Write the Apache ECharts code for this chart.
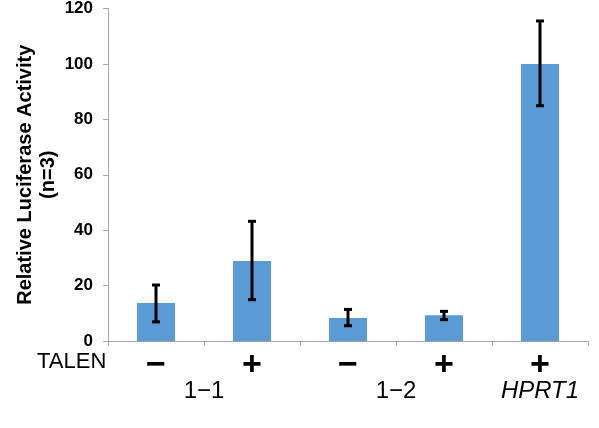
<!DOCTYPE html>
<html>
<head>
<meta charset="utf-8">
<script src="https://cdn.jsdelivr.net/npm/echarts@6/dist/echarts.min.js"></script>
<style>
html,body{margin:0;padding:0;background:#fff;}
#main{width:599px;height:428px;}
</style>
</head>
<body>
<div id="main"></div>
<script>
var categories = ['\u2212', '+', '\u2212', '+', '+'];
var values = [13.7, 28.9, 8.3, 9.3, 100];
var errLow = [6.9, 14.9, 5.5, 7.7, 84.9];
var errHigh = [20.2, 43.2, 11.4, 10.7, 115.5];
var groupLabels = ['1\u22121', '1\u22122', 'HPRT1'];
var groupCenters = [0.5, 2.5, 4];
var yTicks = [0, 20, 40, 60, 80, 100, 120];

var font = 'Liberation Sans, Arial, sans-serif';
var axisGray = '#a6a6a6';

var chart = echarts.init(document.getElementById('main'));

var errData = categories.map(function (c, i) {
	return [i, errLow[i], errHigh[i]];
});

var option = {
	backgroundColor: '#fff',
	animation: false,
	grid: {left: 108, right: 11, top: 5, bottom: 87},
	xAxis: {
		type: 'category',
		data: categories,
		axisLine: {lineStyle: {color: axisGray, width: 1}},
		axisTick: {show: true, length: 5, lineStyle: {color: axisGray}},
		axisLabel: {
			color: '#000',
			fontFamily: font,
			fontWeight: 'bold',
			fontSize: 34,
			margin: 8
		}
	},
	yAxis: {
		type: 'value',
		min: yTicks[0],
		max: yTicks[yTicks.length - 1],
		interval: 20,
		splitLine: {show: false},
		axisLine: {show: true, lineStyle: {color: axisGray, width: 1}},
		axisTick: {show: true, length: 5, lineStyle: {color: axisGray}},
		axisLabel: {
			color: '#000',
			fontFamily: font,
			fontWeight: 'bold',
			fontSize: 17,
			margin: 15
		},
		name: 'Relative Luciferase Activity\n(n=3)',
		nameLocation: 'middle',
		nameGap: 48,
		nameMoveOverlap: false,
		nameTextStyle: {
			color: '#000',
			fontFamily: font,
			fontWeight: 'bold',
			fontSize: 20,
			lineHeight: 23
		}
	},
	series: [
		{
			name: 'activity',
			type: 'bar',
			data: values,
			barWidth: 38,
			itemStyle: {color: '#5b9bd5'}
		},
		{
			name: 'error',
			type: 'custom',
			data: errData,
			z: 10,
			renderItem: function (params, api) {
				var lo = api.coord([api.value(0), api.value(1)]);
				var hi = api.coord([api.value(0), api.value(2)]);
				var x = lo[0];
				var cap = 4;
				var st = {stroke: '#000', lineWidth: 3};
				return {
					type: 'group',
					children: [
						{type: 'line', shape: {x1: x, y1: lo[1], x2: x, y2: hi[1]}, style: st},
						{type: 'line', shape: {x1: x - cap, y1: lo[1], x2: x + cap, y2: lo[1]}, style: st},
						{type: 'line', shape: {x1: x - cap, y1: hi[1], x2: x + cap, y2: hi[1]}, style: st}
					]
				};
			}
		}
	]
};

chart.setOption(option);

// text below the axis: TALEN row title and group names
function catX(pos) {
	var i = Math.floor(pos);
	var a = chart.convertToPixel({xAxisIndex: 0}, i);
	if (pos === i) return a;
	var b = chart.convertToPixel({xAxisIndex: 0}, i + 1);
	return a + (b - a) * (pos - i);
}

var graphics = [{
	type: 'text',
	left: 37,
	top: 351,
	style: {text: 'TALEN', font: '22px ' + font, fill: '#000'}
}];
groupLabels.forEach(function (g, i) {
	graphics.push({
		type: 'text',
		x: catX(groupCenters[i]),
		y: 391,
		style: {
			text: g,
			font: (g === 'HPRT1' ? 'italic ' : '') + '24px ' + font,
			fill: '#000',
			align: 'center',
			verticalAlign: 'middle'
		}
	});
});
chart.setOption({graphic: graphics});
</script>
</body>
</html>
